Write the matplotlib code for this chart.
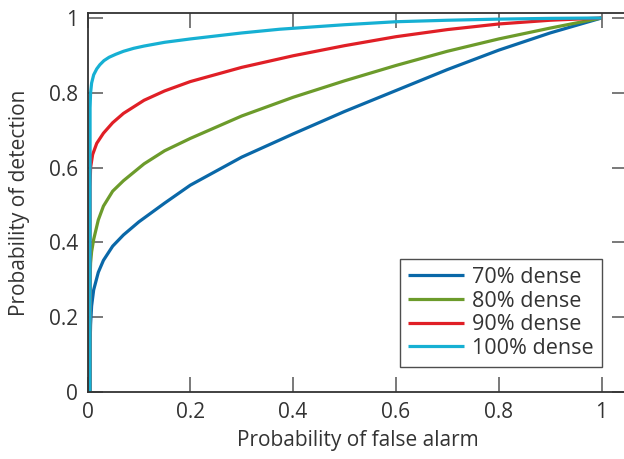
import numpy as np
import matplotlib
matplotlib.use("Agg")
import matplotlib.pyplot as plt

plt.rcParams['font.family'] = ['Open Sans', 'DejaVu Sans']

pfa_70 = [0.005, 0.005, 0.006, 0.008, 0.012, 0.021, 0.031, 0.049, 0.07, 0.1, 0.15, 0.2, 0.3, 0.4, 0.5, 0.6, 0.7, 0.8, 0.9, 1.0]
pd_70 = [0.0, 0.12, 0.18, 0.23, 0.273, 0.32, 0.352, 0.39, 0.42, 0.455, 0.505, 0.553, 0.628, 0.69, 0.75, 0.806, 0.862, 0.914, 0.96, 1.0]

pfa_80 = [0.005, 0.005, 0.006, 0.008, 0.012, 0.021, 0.031, 0.049, 0.07, 0.11, 0.15, 0.2, 0.3, 0.4, 0.5, 0.6, 0.7, 0.8, 0.9, 1.0]
pd_80 = [0.0, 0.30, 0.345, 0.375, 0.408, 0.46, 0.497, 0.537, 0.565, 0.61, 0.645, 0.678, 0.738, 0.788, 0.832, 0.873, 0.911, 0.944, 0.973, 1.0]

pfa_90 = [0.005, 0.005, 0.006, 0.01, 0.018, 0.031, 0.049, 0.07, 0.11, 0.15, 0.2, 0.3, 0.4, 0.5, 0.6, 0.7, 0.8, 0.9, 1.0]
pd_90 = [0.0, 0.55, 0.60, 0.635, 0.665, 0.692, 0.72, 0.745, 0.78, 0.805, 0.83, 0.868, 0.899, 0.926, 0.95, 0.969, 0.984, 0.994, 1.0]

pfa_100 = [0.005, 0.005, 0.006, 0.008, 0.012, 0.018, 0.024, 0.032, 0.042, 0.055, 0.07, 0.09, 0.11, 0.15, 0.2, 0.3, 0.374, 0.5, 0.6, 0.7, 0.8, 0.9, 1.0]
pd_100 = [0.0, 0.76, 0.80, 0.826, 0.848, 0.864, 0.875, 0.886, 0.895, 0.903, 0.911, 0.919, 0.925, 0.935, 0.944, 0.96, 0.97, 0.982, 0.99, 0.994, 0.997, 0.999, 1.0]

labels = ['70% dense', '80% dense', '90% dense', '100% dense']
colors = ['#0a68a8', '#6c9b2b', '#e01f26', '#16b0d3']
ticks = [0, 0.2, 0.4, 0.6, 0.8, 1]
tick_labels = ['0', '0.2', '0.4', '0.6', '0.8', '1']

fig = plt.figure(figsize=(6.24, 4.59), dpi=100)
W, H = 624, 459
ax = fig.add_axes([87.5 / W, 67 / H, 1.05 * 514 / W, 1.013 * 374 / H])

curves = [(pfa_70, pd_70), (pfa_80, pd_80), (pfa_90, pd_90), (pfa_100, pd_100)]
for (x, y), c, lab in zip(curves, colors, labels):
    ax.plot(x, y, color=c, lw=2.3, label=lab, solid_capstyle='butt')

ax.set_xlim(0, 1.05)
ax.set_ylim(0, 1.013)
ax.set_xticks(ticks)
ax.set_xticklabels(tick_labels)
ax.set_yticks(ticks)
ax.set_yticklabels(tick_labels)
ax.tick_params(direction='in', length=11, width=1.1, color='#555555',
               labelsize=15, labelcolor='#333333', pad=7,
               top=True, right=True)
for s in ax.spines.values():
    s.set_color('#333333')
    s.set_linewidth(1.3)

ax.set_xlabel('Probability of false alarm', fontsize=15, color='#333333', labelpad=5)
ax.set_ylabel('Probability of detection', fontsize=15, color='#333333', labelpad=13)

leg = ax.legend(loc='lower right', bbox_to_anchor=(1.0, 0.067),
                bbox_transform=ax.transData, fontsize=15.5, frameon=True,
                fancybox=False, edgecolor='#222222', handlelength=2.6,
                handletextpad=0.37, borderpad=0.38, labelspacing=0.12,
                borderaxespad=0)
leg.get_frame().set_linewidth(1.0)
for t in leg.get_texts():
    t.set_color('#333333')

fig.savefig('out.png', dpi=100)
